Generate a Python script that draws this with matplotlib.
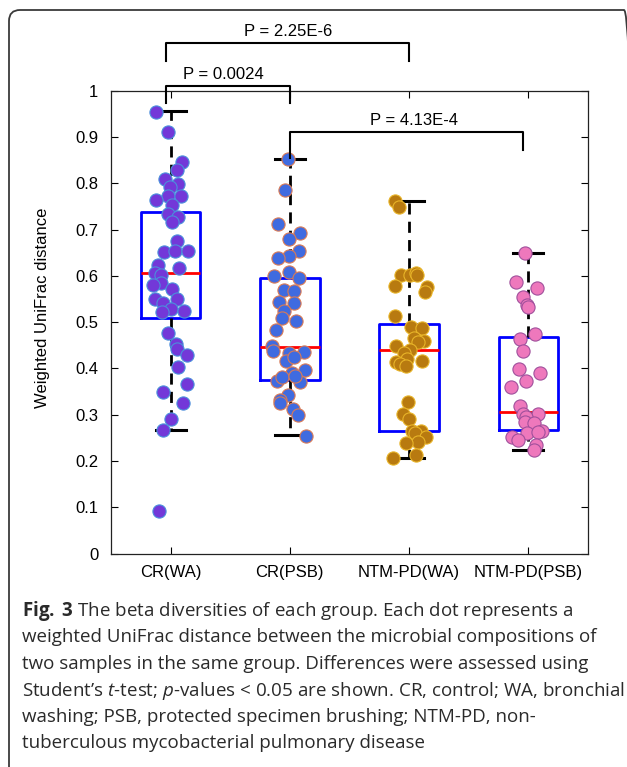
import matplotlib
matplotlib.use("Agg")
import matplotlib.pyplot as plt
import numpy as np
from matplotlib.patches import FancyBboxPatch
from matplotlib.transforms import IdentityTransform

plt.rcParams['font.family'] = ['Liberation Sans', 'DejaVu Sans']
plt.rcParams['mathtext.fontset'] = 'custom'
plt.rcParams['mathtext.rm'] = 'Open Sans'
plt.rcParams['mathtext.it'] = 'Open Sans:italic'
plt.rcParams['mathtext.bf'] = 'Open Sans:bold'

# groups
groups = ["CR(WA)", "CR(PSB)", "NTM-PD(WA)", "NTM-PD(PSB)"]

# box stats: whisker low, q1, median, q3, whisker high
whis_lo = [0.267, 0.256, 0.206, 0.224]
q1 = [0.509, 0.375, 0.264, 0.268]
med = [0.606, 0.446, 0.439, 0.307]
q3 = [0.737, 0.596, 0.495, 0.468]
whis_hi = [0.955, 0.852, 0.761, 0.649]

# dots (distance values) and their horizontal jitter around the group centre
cr_wa = [0.954, 0.911, 0.845, 0.829, 0.810, 0.798, 0.793, 0.773, 0.773, 0.763,
         0.753, 0.733, 0.728, 0.716, 0.675, 0.652, 0.654, 0.654, 0.624, 0.618,
         0.606, 0.602, 0.585, 0.580, 0.572, 0.549, 0.550, 0.541, 0.528, 0.525,
         0.521, 0.477, 0.453, 0.441, 0.429, 0.404, 0.366, 0.349, 0.325, 0.291,
         0.268, 0.093]
cr_wa_jit = [-0.124, -0.018, 0.099, 0.052, -0.049, 0.066, -0.004, -0.021, 0.086, -0.119,
             0.015, -0.018, 0.066, 0.010, 0.057, -0.052, 0.038, 0.145, -0.103, 0.071,
             -0.130, -0.080, -0.080, -0.145, 0.010, 0.052, -0.130, -0.060, 0.002, 0.113,
             -0.074, -0.018, 0.044, 0.052, 0.136, 0.060, 0.139, -0.063, 0.105, 0.007,
             -0.066, -0.094]

cr_psb = [0.852, 0.786, 0.712, 0.693, 0.680, 0.653, 0.644, 0.639, 0.608, 0.595,
          0.600, 0.570, 0.567, 0.544, 0.542, 0.524, 0.510, 0.503, 0.483, 0.449,
          0.438, 0.433, 0.435, 0.417, 0.424, 0.397, 0.390, 0.370, 0.374, 0.382,
          0.384, 0.343, 0.333, 0.325, 0.312, 0.299, 0.255]
cr_psb_jit = [-0.018, -0.044, -0.102, 0.082, -0.007, 0.077, -0.007, -0.099, -0.004, 0.080,
              -0.136, -0.052, 0.035, -0.088, 0.035, -0.052, -0.066, 0.055, -0.119, -0.147,
              -0.145, -0.010, 0.122, -0.035, 0.032, 0.128, 0.018, 0.082, -0.111, -0.066,
              0.046, -0.018, -0.082, -0.086, 0.023, 0.069, 0.136]

ntm_wa = [0.762, 0.749, 0.602, 0.602, 0.606, 0.601, 0.578, 0.577, 0.566, 0.514,
          0.490, 0.488, 0.465, 0.459, 0.458, 0.449, 0.440, 0.434, 0.420, 0.415,
          0.410, 0.406, 0.416, 0.327, 0.302, 0.291, 0.264, 0.264, 0.261, 0.251,
          0.242, 0.238, 0.213, 0.207]
ntm_wa_jit = [-0.119, -0.082, -0.066, 0.007, 0.057, 0.069, -0.116, 0.153, 0.133, -0.119,
              0.013, 0.105, 0.040, 0.124, 0.077, -0.108, 0.007, -0.044, -0.015, -0.108,
              -0.080, -0.024, 0.111, -0.010, -0.049, -0.002, 0.026, 0.097, 0.046, 0.141,
              0.077, -0.029, 0.060, -0.133]

ntm_psb = [0.649, 0.586, 0.573, 0.554, 0.537, 0.533, 0.475, 0.463, 0.438, 0.398,
           0.390, 0.372, 0.359, 0.318, 0.302, 0.301, 0.295, 0.285, 0.283, 0.260,
           0.265, 0.262, 0.251, 0.246, 0.235, 0.224]
ntm_psb_jit = [-0.029, -0.102, 0.074, -0.044, -0.015, -0.007, 0.057, -0.069, -0.046, -0.077,
               0.097, -0.018, -0.145, -0.071, -0.044, 0.077, -0.021, -0.032, 0.049, -0.015,
               0.113, 0.077, -0.139, -0.091, 0.063, 0.049]

values = [cr_wa, cr_psb, ntm_wa, ntm_psb]
jitters = [cr_wa_jit, cr_psb_jit, ntm_wa_jit, ntm_psb_jit]
face_cols = ["#7338d8", "#3f6be0", "#b87a10", "#ee78bc"]
edge_cols = ["#4a8fdc", "#d97a55", "#e8b428", "#a0509c"]

# significance brackets: (left x, right x, bar y, left foot y, right foot y, label, label x, label y)
brackets = [
    (0.962, 3.0, 1.104, 1.065, 1.065, "P = 2.25E-6", 1.987, 1.127),
    (0.962, 2.0, 1.010, 0.973, 0.973, "P = 0.0024", 1.445, 1.034),
    (2.0, 3.954, 0.911, 0.855, 0.872, "P = 4.13E-4", 3.04, 0.935),
]

caption = [
    r"$\mathbf{Fig.\;3}$ The beta diversities of each group. Each dot represents a",
    "weighted UniFrac distance between the microbial compositions of",
    "two samples in the same group. Differences were assessed using",
    r"Student’s $\mathit{t}$-test; $\mathit{p}$-values < 0.05 are shown. CR, control; WA, bronchial",
    "washing; PSB, protected specimen brushing; NTM-PD, non-",
    "tuberculous mycobacterial pulmonary disease",
]

fig = plt.figure(figsize=(6.27, 7.67), dpi=100)
ax = fig.add_axes([0.1770, 0.2781, 0.7608, 0.6037])

pos = np.arange(1, len(groups) + 1)
stats = []
for i in range(len(groups)):
    stats.append(dict(whislo=whis_lo[i], q1=q1[i], med=med[i], q3=q3[i], whishi=whis_hi[i]))

ax.bxp(stats, positions=pos, widths=0.5, capwidths=0.25, showfliers=False,
       boxprops=dict(color="#0000ff", lw=2.0),
       medianprops=dict(color="#ff0000", lw=2.0),
       whiskerprops=dict(color="black", lw=2.0, linestyle=(0, (4, 2.6))),
       capprops=dict(color="black", lw=2.2))

for i in range(len(groups)):
    xs = pos[i] + np.array(jitters[i])
    ax.scatter(xs, values[i], s=90, c=face_cols[i], edgecolors=edge_cols[i],
               linewidths=0.8, zorder=3)

for (xl, xr, yb, yfl, yfr, lab, tx, ty) in brackets:
    ax.plot([xl, xl, xr, xr], [yfl, yb, yb, yfr], color="black", lw=1.5,
            clip_on=False, zorder=4)
    ax.text(tx, ty, lab, ha="center", va="center", fontsize=12, clip_on=False)

ax.set_xlim(0.5, 4.5)
ax.set_ylim(0, 1)
ax.set_xticks(pos)
ax.set_xticklabels(groups, fontsize=12)
yt = np.round(np.arange(0, 1.01, 0.1), 1)
ax.set_yticks(yt)
ax.set_yticklabels(["%g" % v for v in yt], fontsize=12)
ax.tick_params(direction="in", top=True, right=True, length=5, width=0.8)
ax.tick_params(axis="x", pad=8)
ax.tick_params(axis="y", pad=9)
for s in ax.spines.values():
    s.set_linewidth(0.9)
    s.set_color("#222222")
ax.set_ylabel("Weighted UniFrac distance", fontsize=12)
ax.yaxis.set_label_coords(-0.128, 0.532)

# outer frame with rounded corner
frame = FancyBboxPatch((9, -30), 626, 767 - 10 + 30,
                       boxstyle="round,pad=0,rounding_size=11",
                       transform=IdentityTransform(), fill=False,
                       edgecolor="#3a3a3a", lw=1.3)
fig.add_artist(frame)

# caption
base = 616
for k, line in enumerate(caption):
    fig.text(22 / 627, 1 - (base + 26.5 * k) / 767, line, fontsize=13.5,
             family="Open Sans", color="#2a2a2a", va="baseline", ha="left")

fig.savefig("out.png", dpi=100)
